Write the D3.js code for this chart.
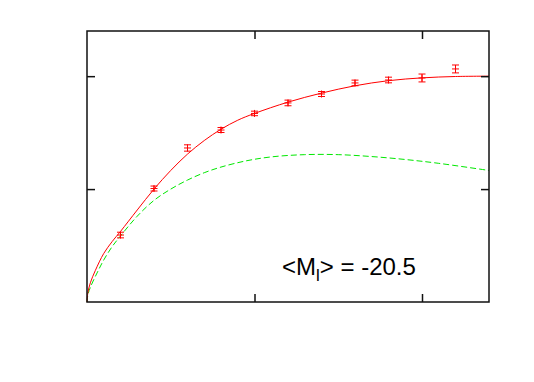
<!DOCTYPE html>
<html><head><meta charset="utf-8">
<script src="https://cdn.jsdelivr.net/npm/d3@7"></script>
<style>body{margin:0;background:#fff}svg{display:block}</style>
</head><body>
<svg id="c" width="534" height="382"></svg>
<script>
// data
const pointX = [0.2,0.4,0.6,0.8,1.0,1.2,1.4,1.6,1.8,2.0,2.2];
const pointY = [0.593,1.005,1.364,1.523,1.670,1.763,1.842,1.940,1.966,1.984,2.064];
const pointErr = [0.025,0.022,0.028,0.022,0.02,0.025,0.022,0.025,0.025,0.035,0.035];
const fitX = [0,0.005,0.02,0.05,0.1,0.15,0.2,0.3,0.4,0.5,0.6,0.7,0.8,0.9,1.0,1.2,1.4,1.6,1.8,2.0,2.2,2.4];
const fitY = [0,0.08,0.17,0.28,0.43,0.535,0.625,0.815,1.0,1.165,1.31,1.43,1.53,1.61,1.67,1.77,1.85,1.915,1.96,1.985,1.997,2.0];
const modelX = [0,0.005,0.02,0.06,0.1,0.15,0.2,0.3,0.4,0.5,0.6,0.7,0.8,0.95,1.1,1.3,1.5,1.7,1.9,2.1,2.4];
const modelY = [0,0.06,0.13,0.257,0.372,0.49,0.585,0.76,0.9,1.0,1.08,1.145,1.195,1.25,1.285,1.305,1.305,1.288,1.262,1.228,1.165];
const xTicks = [1,2];
const yTicks = [1,2];
const labelMain = "<M";
const labelSub = "l";
const labelRest = "> = -20.5";

const svg = d3.select("#c");
const L=87, R=489, T=31, B=302;
const x = d3.scaleLinear().domain([0,2.4]).range([L,R]);
const y = d3.scaleLinear().domain([0,2.4]).range([B,T]);

const g = svg.append("g");
// curves
const line = d3.line().curve(d3.curveCatmullRom.alpha(0.5));
g.append("path").attr("d", line(modelX.map((v,i)=>[x(v),y(modelY[i])])))
  .attr("fill","none").attr("stroke","#00e800").attr("stroke-width",1).attr("stroke-dasharray","6,3");
g.append("path").attr("d", line(fitX.map((v,i)=>[x(v),y(fitY[i])])))
  .attr("fill","none").attr("stroke","#ff0000").attr("stroke-width",1);

// points with error bars
const pts = g.selectAll("g.pt").data(pointX.map((v,i)=>({x:v,y:pointY[i],e:pointErr[i]}))).join("g")
  .attr("stroke","#ff0000").attr("stroke-width",1).attr("fill","none");
pts.append("line").attr("x1",d=>x(d.x)).attr("x2",d=>x(d.x)).attr("y1",d=>y(d.y-d.e)).attr("y2",d=>y(d.y+d.e));
pts.append("line").attr("x1",d=>x(d.x)-3.5).attr("x2",d=>x(d.x)+3.5).attr("y1",d=>y(d.y-d.e)).attr("y2",d=>y(d.y-d.e));
pts.append("line").attr("x1",d=>x(d.x)-3.5).attr("x2",d=>x(d.x)+3.5).attr("y1",d=>y(d.y+d.e)).attr("y2",d=>y(d.y+d.e));
pts.append("line").attr("x1",d=>x(d.x)-3.5).attr("x2",d=>x(d.x)+3.5).attr("y1",d=>y(d.y)).attr("y2",d=>y(d.y));
pts.append("line").attr("x1",d=>x(d.x)).attr("x2",d=>x(d.x)).attr("y1",d=>y(d.y)-3.5).attr("y2",d=>y(d.y)+3.5);

// axes (ticks inward, no labels)
const ax = (gen, tr) => svg.append("g").attr("transform",tr).call(gen)
  .call(s=>{s.select(".domain").remove(); s.selectAll("line").attr("stroke","#111").attr("stroke-width",1.5); s.selectAll("text").remove();});
ax(d3.axisBottom(x).tickValues(xTicks).tickSize(-8).tickSizeOuter(0).tickFormat(""), `translate(0,${B})`);
ax(d3.axisTop(x).tickValues(xTicks).tickSize(-8).tickSizeOuter(0).tickFormat(""), `translate(0,${T})`);
ax(d3.axisLeft(y).tickValues(yTicks).tickSize(-8).tickSizeOuter(0).tickFormat(""), `translate(${L},0)`);
ax(d3.axisRight(y).tickValues(yTicks).tickSize(-8).tickSizeOuter(0).tickFormat(""), `translate(${R},0)`);

svg.append("rect").attr("x",L).attr("y",T).attr("width",R-L).attr("height",B-T)
  .attr("fill","none").attr("stroke","#111").attr("stroke-width",1.5);

// label
const t = svg.append("text").attr("x",282).attr("y",275)
  .attr("font-family","Liberation Sans, Arial, sans-serif").attr("font-size",24).attr("fill","#000");
t.append("tspan").text(labelMain);
t.append("tspan").attr("dy",6).attr("font-size",17).text(labelSub);
t.append("tspan").attr("dy",-6).text(labelRest);
</script>
</body></html>
